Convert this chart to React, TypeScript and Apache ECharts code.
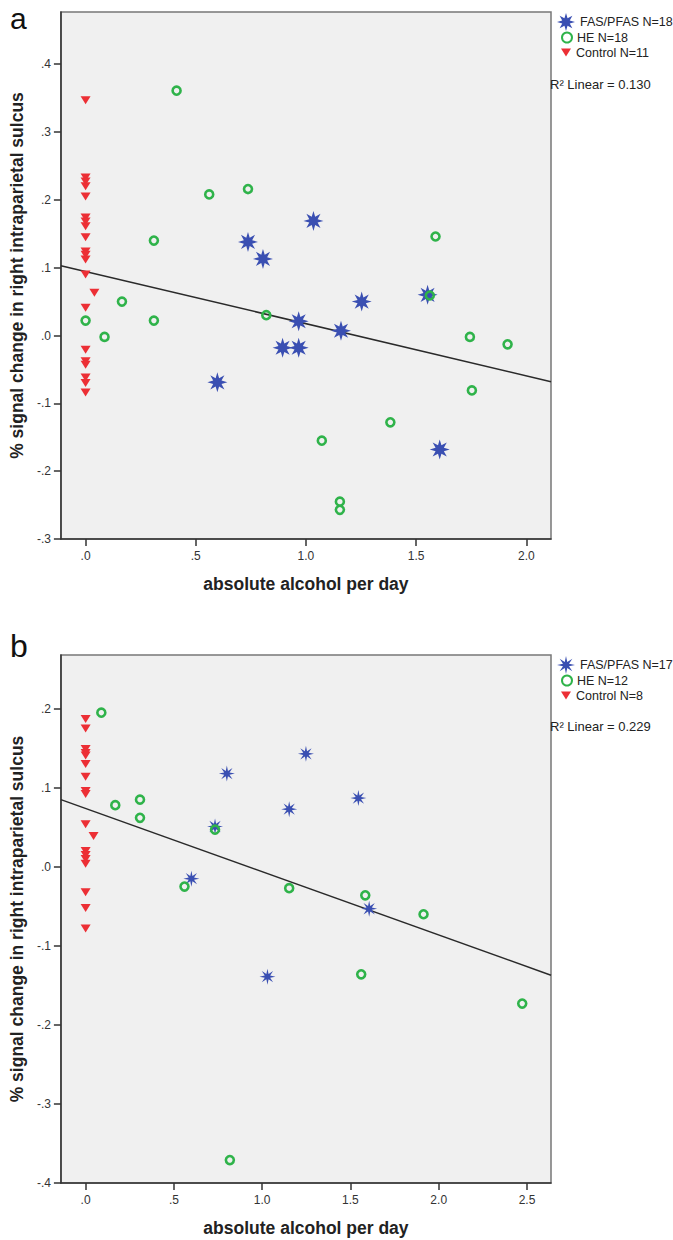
import React, { useEffect, useRef } from "react";
import * as echarts from "echarts";

// ---------- Panel a data ----------
const faA_x = [0.737, 0.805, 1.034, 0.967, 0.894, 0.967, 0.598, 1.159, 1.253, 1.552, 1.607];
const faA_y = [0.138, 0.113, 0.169, 0.021, -0.018, -0.018, -0.069, 0.007, 0.05, 0.06, -0.168];
const heA_x = [0.413, 0.561, 0.737, 0.31, 0.165, 0, 0.31, 0.086, 0.82, 1.072, 1.154, 1.154, 1.744, 1.915, 1.753, 1.383, 1.562, 1.588];
const heA_y = [0.361, 0.208, 0.216, 0.14, 0.05, 0.022, 0.022, -0.002, 0.03, -0.155, -0.245, -0.257, -0.002, -0.013, -0.081, -0.128, 0.059, 0.146];
const ctA_x = [0, 0, 0, 0, 0, 0, 0, 0, 0, 0, 0, 0, 0, 0.04, 0, 0, 0, 0, 0, 0, 0];
const ctA_y = [0.347, 0.233, 0.227, 0.22, 0.205, 0.174, 0.168, 0.161, 0.145, 0.124, 0.119, 0.112, 0.09, 0.063, 0.041, -0.021, -0.038, -0.043, -0.062, -0.07, -0.084];
const regA = { intercept: 0.0944, slope: -0.0769 };
const namesA = ["FAS/PFAS N=18", "HE N=18", "Control N=11"];
const r2A = "R² Linear = 0.130";
const xTicksA = [0, 0.5, 1, 1.5, 2];
const yTicksA = [-0.3, -0.2, -0.1, 0, 0.1, 0.2, 0.3, 0.4];
const xRangeA = [-0.112, 2.112];
const yRangeA = [-0.3, 0.477];

// ---------- Panel b data ----------
const faB_x = [0.8, 1.248, 1.153, 0.733, 0.599, 1.545, 1.606, 1.03];
const faB_y = [0.118, 0.143, 0.073, 0.051, -0.015, 0.087, -0.053, -0.139];
const heB_x = [0.089, 0.168, 0.308, 0.308, 0.733, 0.56, 1.153, 0.817, 1.584, 1.914, 1.561, 2.473];
const heB_y = [0.195, 0.078, 0.085, 0.062, 0.047, -0.025, -0.027, -0.371, -0.036, -0.06, -0.136, -0.173];
const ctB_x = [0, 0, 0, 0, 0, 0, 0, 0, 0, 0, 0.045, 0, 0, 0, 0, 0, 0, 0];
const ctB_y = [0.187, 0.175, 0.149, 0.144, 0.141, 0.13, 0.114, 0.096, 0.092, 0.054, 0.039, 0.02, 0.015, 0.01, 0.004, -0.032, -0.052, -0.078];
const regB = { intercept: 0.0738, slope: -0.08 };
const namesB = ["FAS/PFAS N=17", "HE N=12", "Control N=8"];
const r2B = "R² Linear = 0.229";
const xTicksB = [0, 0.5, 1, 1.5, 2, 2.5];
const yTicksB = [-0.4, -0.3, -0.2, -0.1, 0, 0.1, 0.2];
const xRangeB = [-0.14, 2.636];
const yRangeB = [-0.4, 0.268];

const BLUE = "#3a4fb2";
const GREEN = "#2fb34a";
const RED = "#ec2f35";
const FONT = "Liberation Sans, Arial, sans-serif";

function starPath(inner: number): string {
  const pts: string[] = [];
  for (let i = 0; i < 16; i++) {
    const r = i % 2 === 0 ? 50 : 50 * inner;
    const a = (Math.PI / 8) * i - Math.PI / 2;
    pts.push(`${(50 + r * Math.cos(a)).toFixed(2)} ${(50 + r * Math.sin(a)).toFixed(2)}`);
  }
  return "path://M" + pts.join(" L") + " Z";
}
const DOWN_TRI = "path://M0 0 L10 0 L5 8 Z";

const fmt = (v: number) => {
  const s = Math.abs(v).toFixed(1).replace(/^0\./, ".");
  return (v < -1e-9 ? "-" : "") + s;
};

const zip = (xs: number[], ys: number[]) => xs.map((x, i) => [x, ys[i]]);

function axisPair(idx: number, xr: number[], yr: number[], xt: number[], yt: number[]) {
  const labelStyle = { color: "#333", fontSize: 12, fontFamily: FONT, formatter: fmt };
  const x = {
    type: "value",
    gridIndex: idx,
    min: xr[0],
    max: xr[1],
    name: "absolute alcohol per day",
    nameLocation: "middle",
    nameGap: 36,
    nameTextStyle: { fontSize: 17.5, fontWeight: "bold", color: "#222", fontFamily: FONT },
    axisLine: { show: true, onZero: false, lineStyle: { color: "#333", width: 1.5 } },
    axisTick: { show: true, length: 7, customValues: xt, lineStyle: { color: "#333", width: 1.5 } },
    axisLabel: { ...labelStyle, margin: 11, customValues: xt },
    splitLine: { show: false },
  };
  const y = {
    type: "value",
    gridIndex: idx,
    min: yr[0],
    max: yr[1],
    name: "% signal change in right intraparietal sulcus",
    nameLocation: "middle",
    nameGap: 32,
    nameRotate: 90,
    nameTextStyle: { fontSize: 17.5, fontWeight: "bold", color: "#222", fontFamily: FONT },
    axisLine: { show: true, onZero: false, lineStyle: { color: "#333", width: 1.5 } },
    axisTick: { show: true, length: 7, customValues: yt, lineStyle: { color: "#333", width: 1.5 } },
    axisLabel: { ...labelStyle, margin: 10, customValues: yt },
    splitLine: { show: false },
  };
  return { x, y };
}

function panelSeries(
  idx: number,
  names: string[],
  fa: number[][],
  he: number[][],
  ct: number[][],
  reg: { intercept: number; slope: number },
  xr: number[],
  starSize: number,
  starInner: number
) {
  return [
    {
      type: "line",
      name: "fit" + idx,
      xAxisIndex: idx,
      yAxisIndex: idx,
      showSymbol: false,
      symbol: "none",
      silent: true,
      lineStyle: { color: "#2a2a2a", width: 1.5 },
      data: xr.map((x) => [x, reg.intercept + reg.slope * x]),
      z: 2,
    },
    {
      type: "scatter",
      name: names[0],
      xAxisIndex: idx,
      yAxisIndex: idx,
      symbol: starPath(starInner),
      symbolSize: starSize,
      itemStyle: { color: BLUE, opacity: 1 },
      data: fa,
      z: 3,
    },
    {
      type: "scatter",
      name: names[1],
      xAxisIndex: idx,
      yAxisIndex: idx,
      symbol: "circle",
      symbolSize: 8,
      itemStyle: { color: "rgba(0,0,0,0)", borderColor: GREEN, borderWidth: 2.6, opacity: 1 },
      data: he,
      z: 4,
    },
    {
      type: "scatter",
      name: names[2],
      xAxisIndex: idx,
      yAxisIndex: idx,
      symbol: DOWN_TRI,
      symbolSize: [10, 8],
      itemStyle: { color: RED, opacity: 1 },
      data: ct,
      z: 4,
    },
  ];
}

function legends(names: string[], top: number) {
  const text = { fontSize: 12.5, color: "#222", fontFamily: FONT };
  return [
    { data: [names[0]], left: 557, top: top, padding: 0, itemWidth: 18, itemHeight: 18, itemGap: 0, textStyle: text, selectedMode: false },
    { data: [names[1]], left: 561, top: top + 18, padding: 0, itemWidth: 10, itemHeight: 10, itemGap: 0, textStyle: text, selectedMode: false },
    { data: [names[2]], left: 561, top: top + 33, padding: 0, itemWidth: 10, itemHeight: 10, itemGap: 0, textStyle: text, selectedMode: false },
  ];
}

export default function App() {
  const ref = useRef<HTMLDivElement>(null);
  useEffect(() => {
    if (!ref.current) return;
    const chart = echarts.init(ref.current, null, { renderer: "svg" });
    const a = axisPair(0, xRangeA, yRangeA, xTicksA, yTicksA);
    const b = axisPair(1, xRangeB, yRangeB, xTicksB, yTicksB);
    const gridCommon = {
      show: true,
      backgroundColor: "#f0f0f0",
      borderColor: "#777",
      borderWidth: 1.5,
      containLabel: false,
    };
    chart.setOption({
      animation: false,
      backgroundColor: "#ffffff",
      grid: [
        { ...gridCommon, left: 55, top: 12, width: 496, height: 527 },
        { ...gridCommon, left: 55, top: 655, width: 496, height: 528 },
      ],
      xAxis: [a.x, b.x],
      yAxis: [a.y, b.y],
      legend: [...legends(namesA, 13), ...legends(namesB, 656)],
      series: [
        ...panelSeries(0, namesA, zip(faA_x, faA_y), zip(heA_x, heA_y), zip(ctA_x, ctA_y), regA, xRangeA, 20, 0.45),
        ...panelSeries(1, namesB, zip(faB_x, faB_y), zip(heB_x, heB_y), zip(ctB_x, ctB_y), regB, xRangeB, 16, 0.36),
      ],
      graphic: [
        { type: "text", left: 10, top: 3, style: { text: "a", fontSize: 30, fill: "#111", fontFamily: FONT } },
        { type: "text", left: 10, top: 630, style: { text: "b", fontSize: 32, fill: "#111", fontFamily: FONT } },
        { type: "text", left: 550, top: 78, style: { text: r2A, fontSize: 13, fill: "#222", fontFamily: FONT } },
        { type: "text", left: 550, top: 720, style: { text: r2B, fontSize: 13, fill: "#222", fontFamily: FONT } },
      ],
    });
    return () => chart.dispose();
  }, []);
  return (
    <div
      ref={ref}
      style={{ position: "absolute", left: 0, top: 0, width: 673, height: 1240 }}
    />
  );
}
